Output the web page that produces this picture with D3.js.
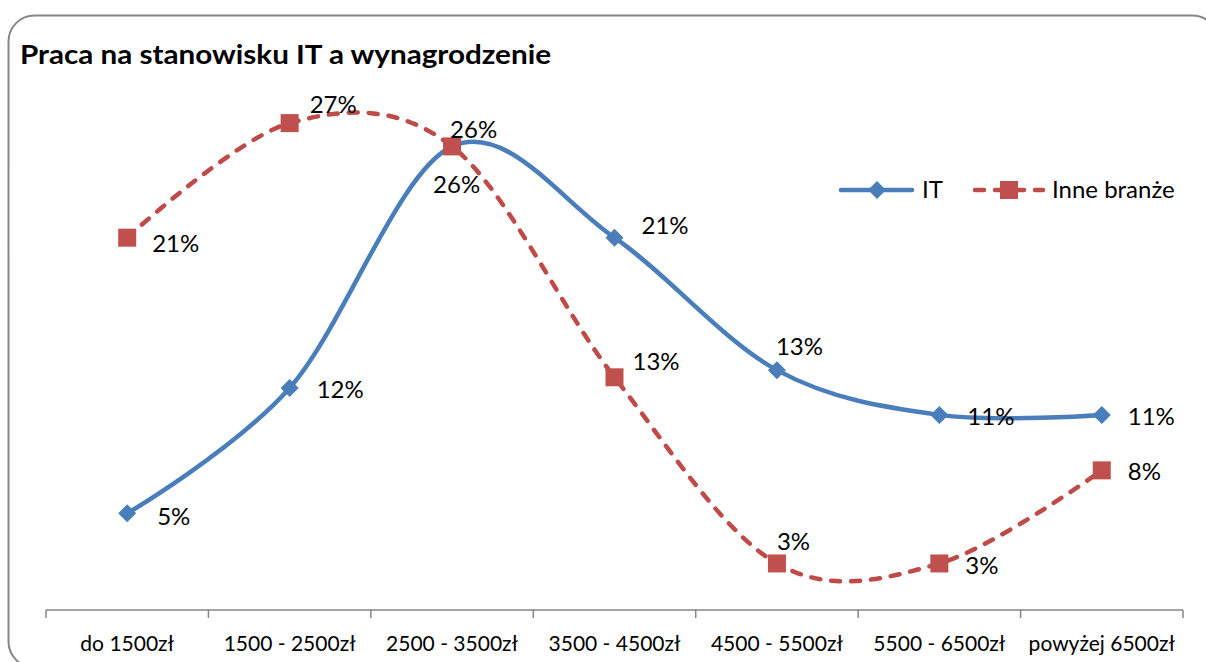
<!DOCTYPE html>
<html>
<head>
<meta charset="utf-8">
<script src="https://cdn.jsdelivr.net/npm/d3@7"></script>
<style>
  body { margin: 0; background: #fff; }
  text { font-family: Lato, "Open Sans", sans-serif; fill: #000; }
</style>
</head>
<body>
<div id="chart"></div>
<script>
// chart data
var categories = ["do 1500zł", "1500 - 2500zł", "2500 - 3500zł", "3500 - 4500zł", "4500 - 5500zł", "5500 - 6500zł", "powyżej 6500zł"];
var itValues = [5.4, 12.4, 25.9, 20.8, 13.4, 10.9, 10.9];
var inneValues = [20.8, 27.2, 25.9, 13.0, 2.6, 2.6, 7.8];
var seriesNames = ["IT", "Inne branże"];

// label nudges (dx from point to text start, dy from point to text middle)
var itLabelShift = [[30, 3], [27, 2], [-2, -17], [27, -12], [-1, -24], [28, 2], [26, 2]];
var inneLabelShift = [[25, 6], [20, -19], [-19, 38], [18, -16], [0, -22], [26, 2], [26, 1]];

var width = 1206, height = 662;
var blue = "#4A7EBB", red = "#BE4B48";

var svg = d3.select("#chart").append("svg")
  .attr("width", width)
  .attr("height", height);

// outer rounded frame
svg.append("rect")
  .attr("x", 8.5).attr("y", 15.5)
  .attr("width", 1210).attr("height", 652)
  .attr("rx", 26).attr("ry", 26)
  .attr("fill", "#fff")
  .attr("stroke", "#878787")
  .attr("stroke-width", 2);

svg.append("text")
  .attr("x", 20).attr("y", 64)
  .style("font-size", "27px")
  .style("font-weight", "bold")
  .attr("textLength", 531)
  .attr("lengthAdjust", "spacingAndGlyphs")
  .text("Praca na stanowisku IT a wynagrodzenie");

//scales
var xScale = d3.scaleBand()
  .domain(categories)
  .range([46, 1183]);

var yScale = d3.scaleLinear()
  .domain([0, 30])
  .range([610, 73]);

var axisG = svg.append("g")
  .attr("transform", "translate(0,610)");

axisG.append("line")
  .attr("x1", 46).attr("x2", 1183)
  .attr("y1", 0).attr("y2", 0)
  .attr("stroke", "#868686").attr("stroke-width", 1.5);

// tick marks sit between categories
var bounds = categories.map(function(d){ return xScale(d); }).concat([xScale.range()[1]]);
axisG.selectAll(".tk")
  .data(bounds)
  .enter().append("line")
  .attr("class", "tk")
  .attr("x1", function(d){ return d; }).attr("x2", function(d){ return d; })
  .attr("y1", 0).attr("y2", 8)
  .attr("stroke", "#868686").attr("stroke-width", 1.5);

axisG.selectAll(".cat")
  .data(categories)
  .enter().append("text")
  .attr("class", "cat")
  .attr("x", function(d){ return xScale(d) + xScale.bandwidth()/2; })
  .attr("y", 41)
  .attr("text-anchor", "middle")
  .style("font-size", "21px")
  .text(function(d){ return d; });

function cx(i){ return xScale(categories[i]) + xScale.bandwidth()/2; }

var line = d3.line()
  .x(function(d, i){ return cx(i); })
  .y(function(d){ return yScale(d); })
  .curve(d3.curveCardinal.tension(0));

// IT line
svg.append("path")
  .datum(itValues)
  .attr("fill", "none")
  .attr("stroke", blue)
  .attr("stroke-width", 4.5)
  .attr("stroke-linejoin", "round")
  .attr("stroke-linecap", "round")
  .attr("d", line);

// Inne line
svg.append("path")
  .datum(inneValues)
  .attr("fill", "none")
  .attr("stroke", red)
  .attr("stroke-width", 4.5)
  .attr("stroke-dasharray", "9,11")
  .attr("stroke-linecap", "round")
  .attr("d", line);

var diamond = "M0,-9L9,0L0,9L-9,0Z";

svg.selectAll(".itpt")
  .data(itValues)
  .enter().append("path")
  .attr("class", "itpt")
  .attr("d", diamond)
  .attr("transform", function(d, i){ return "translate(" + cx(i) + "," + yScale(d) + ")"; })
  .attr("fill", blue);

svg.selectAll(".innept")
  .data(inneValues)
  .enter().append("rect")
  .attr("class", "innept")
  .attr("x", function(d, i){ return cx(i) - 9; })
  .attr("y", function(d){ return yScale(d) - 9; })
  .attr("width", 18).attr("height", 18)
  .attr("fill", "#C0504D");

function labels(values, shifts, cls){
  svg.selectAll("." + cls)
    .data(values)
    .enter().append("text")
    .attr("class", cls)
    .attr("x", function(d, i){ return cx(i) + shifts[i][0]; })
    .attr("y", function(d, i){ return yScale(d) + shifts[i][1]; })
    .attr("dy", "0.35em")
    .style("font-size", "24px")
    .text(function(d){ return Math.round(d) + "%"; });
}
labels(itValues, itLabelShift, "itlbl");
labels(inneValues, inneLabelShift, "innelbl");

// legend
var legend = svg.append("g").attr("transform", "translate(841,190)");
legend.append("line")
  .attr("x1", 0).attr("x2", 71).attr("y1", 0).attr("y2", 0)
  .attr("stroke", blue).attr("stroke-width", 4.5).attr("stroke-linecap", "round");
legend.append("path").attr("d", diamond).attr("transform", "translate(36,0)").attr("fill", blue);
legend.append("text").attr("x", 81).attr("y", 0).attr("dy", "0.35em")
  .style("font-size", "24px").text(seriesNames[0]);

legend.append("line")
  .attr("x1", 134).attr("x2", 202).attr("y1", 0).attr("y2", 0)
  .attr("stroke", red).attr("stroke-width", 4.5)
  .attr("stroke-dasharray", "9,11").attr("stroke-linecap", "round");
legend.append("rect").attr("x", 159).attr("y", -9).attr("width", 18).attr("height", 18).attr("fill", "#C0504D");
legend.append("text").attr("x", 211).attr("y", 0).attr("dy", "0.35em")
  .style("font-size", "24px").text(seriesNames[1]);
</script>
</body>
</html>
